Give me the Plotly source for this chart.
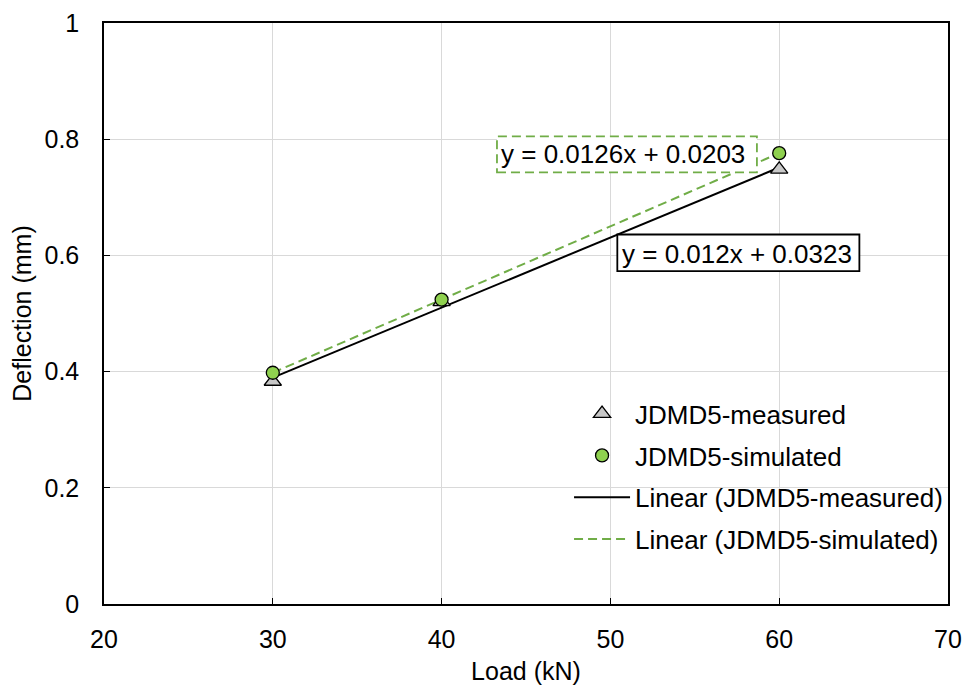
import numpy as np
import plotly.graph_objects as go

load = [30, 40, 60]
measured = [0.383, 0.520, 0.748]
simulated = [0.398, 0.524, 0.776]
eq_measured = "y = 0.012x + 0.0323"
eq_simulated = "y = 0.0126x + 0.0203"
x_ticks = [20, 30, 40, 50, 60, 70]
y_ticks = [0, 0.2, 0.4, 0.6, 0.8, 1]

FONT = "Liberation Sans, Arial, sans-serif"

xs = np.array(load, dtype=float)
pm = np.polyfit(xs, measured, 1)
ps = np.polyfit(xs, simulated, 1)
xfit = np.array([min(load), max(load)], dtype=float)

fig = go.Figure()
fig.add_trace(go.Scatter(
    x=xfit, y=np.polyval(pm, xfit), mode="lines", name="Linear (JDMD5-measured)",
    legendgroup="c", legendrank=3,
    line=dict(color="black", width=2)))
fig.add_trace(go.Scatter(
    x=xfit, y=np.polyval(ps, xfit), mode="lines", name="Linear (JDMD5-simulated)",
    legendgroup="d", legendrank=4,
    line=dict(color="#70ad47", width=2, dash="9px,5px")))
fig.add_trace(go.Scatter(
    x=load, y=measured, mode="markers", name="JDMD5-measured",
    legendgroup="a", legendrank=1,
    marker=dict(symbol="triangle-up", size=15, color="#c8c8c8",
                line=dict(color="black", width=1.3))))
fig.add_trace(go.Scatter(
    x=load, y=simulated, mode="markers", name="JDMD5-simulated",
    legendgroup="b", legendrank=2,
    marker=dict(symbol="circle", size=13, color="#8fd14f",
                line=dict(color="black", width=1.3))))

axis_common = dict(
    showline=True, linecolor="black", linewidth=1.5, mirror=True,
    ticks="inside", ticklen=6, tickcolor="black", tickwidth=1,
    showgrid=True, gridcolor="#d9d9d9", gridwidth=1, zeroline=False,
    ticklabeloverflow="allow",
    tickfont=dict(family=FONT, size=25, color="black"),
)
fig.update_xaxes(range=[20, 70], tickvals=x_ticks, ticklabelstandoff=12,
                 title=dict(text="Load (kN)", font=dict(family=FONT, size=25, color="black"), standoff=11),
                 **axis_common)
fig.update_yaxes(range=[0, 1], tickvals=y_ticks, ticktext=[str(v) for v in y_ticks],
                 ticklabelstandoff=18,
                 title=dict(text="Deflection (mm)", font=dict(family=FONT, size=25, color="black"), standoff=8),
                 **axis_common)

# simulated equation box (dashed)
fig.add_shape(type="rect", x0=43.28, x1=58.68, y0=0.743, y1=0.805, xref="x", yref="y",
              line=dict(color="#70ad47", width=1.8, dash="9px,5px"), fillcolor="white", layer="above")
fig.add_annotation(x=50.75, y=0.774, xref="x", yref="y", text=eq_simulated, showarrow=False,
                   font=dict(family=FONT, size=26, color="black"))
# measured equation box (solid)
fig.add_shape(type="rect", x0=50.41, x1=64.75, y0=0.573, y1=0.636, xref="x", yref="y",
              line=dict(color="black", width=1.8), fillcolor="white", layer="above")
fig.add_annotation(x=57.48, y=0.603, xref="x", yref="y", text=eq_measured, showarrow=False,
                   font=dict(family=FONT, size=26, color="black"))

fig.update_layout(
    width=971, height=687,
    margin=dict(l=96, r=31, t=15, b=91, autoexpand=False),
    paper_bgcolor="white", plot_bgcolor="white",
    font=dict(family=FONT, color="black"),
    legend=dict(x=0.551, y=0.368, xanchor="left", yanchor="top",
                bgcolor="rgba(0,0,0,0)", traceorder="grouped", tracegroupgap=5,
                font=dict(family=FONT, size=26, color="black"), itemwidth=56),
)

fig.write_html("out.html")
